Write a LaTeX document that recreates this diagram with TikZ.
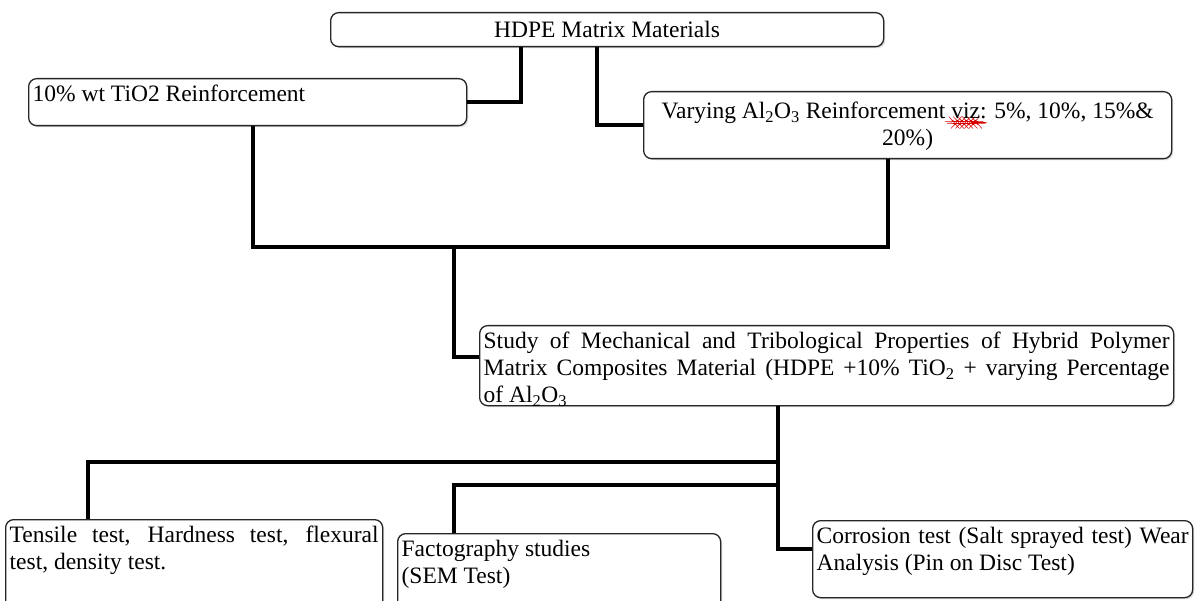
\documentclass[tikz,border=0pt]{standalone}
\usepackage{fontspec}
\setmainfont{Liberation Serif}
\usetikzlibrary{shadows,decorations.pathmorphing}
\newsavebox\wavebox
\newcommand\redwave[1]{\sbox\wavebox{#1}\rlap{\raisebox{-5pt}{\tikz\draw[red!85!black, line width=0.5pt, decorate, decoration={snake, amplitude=0.8pt, segment length=4.5pt}] (0pt,0pt) -- (\the\wd\wavebox,0pt);}}#1}
\newcommand\fs{\fontsize{23.5}{27}\selectfont}
\newcommand\tb[3]{\parbox[c][#2][t]{#1}{\strut #3}}
\begin{document}
\begin{tikzpicture}[x=1pt,y=-1pt,
  box/.style={draw=black!85, line width=1.3pt, rounded corners=8pt, fill=white,
    drop shadow={shadow xshift=1.5pt, shadow yshift=-1.5pt, opacity=0.3},
    inner xsep=4pt, inner ysep=4pt, anchor=north west, font=\fs},
  link/.style={line width=4pt, line join=miter, draw=black}]
\path[use as bounding box] (0,0) rectangle (1199,601);
\clip (0,0) rectangle (1199,601);

\node[box, minimum width=553pt, minimum height=34pt, inner ysep=0pt] (top) at (330,12) {HDPE Matrix Materials};
\node[box, minimum width=438pt, minimum height=47pt] (tio) at (28,78) {\tb{430pt}{39pt}{10\% wt TiO2 Reinforcement}};
\node[box, minimum width=528pt, minimum height=67pt, inner ysep=8pt] (al) at (643,91) {\tb{520pt}{51pt}{\centering Varying Al\textsubscript{2}O\textsubscript{3} Reinforcement \redwave{viz}: 5\%, 10\%, 15\%\&\\ 20\%)}};
\node[box, minimum width=694pt, minimum height=80pt] (study) at (479,325) {\tb{686pt}{72pt}{Study of Mechanical and Tribological Properties of Hybrid Polymer\linebreak Matrix Composites Material (HDPE +10\% TiO\textsubscript{2} + varying Percentage\linebreak of Al\textsubscript{2}O\textsubscript{3}}};
\node[box, minimum width=377pt, minimum height=100pt] (tens) at (5,519) {\tb{369pt}{92pt}{Tensile test, Hardness test, flexural\linebreak test, density test.}};
\node[box, minimum width=323pt, minimum height=90pt] (fact) at (397,533) {\tb{315pt}{82pt}{Factography studies\\(SEM Test)}};
\node[box, minimum width=380pt, minimum height=77pt] (corr) at (812,520) {\tb{372pt}{69pt}{Corrosion test (Salt sprayed test) Wear\linebreak Analysis (Pin on Disc Test)}};

\coordinate (a) at (521,0);
\coordinate (b) at (597,0);
\coordinate (j1) at (253,247);
\coordinate (j2) at (888,247);
\coordinate (j3) at (454,247);
\coordinate (j4) at (454,357);
\coordinate (k) at (778,549);
\coordinate (h1) at (88,462);
\coordinate (h2) at (778,462);
\coordinate (g1) at (454,485);
\coordinate (g2) at (778,485);

\draw[link] (top.south -| a) |- (tio.east);
\draw[link] (top.south -| b) |- (al.west);
\draw[link] (tio.south -| j1) -- (j1) -- (j2) -- (al.south -| j2);
\draw[link] (j3) -- (j4) -- (j4 -| study.west);
\draw[link] (study.south -| k) -- (k) -- (k -| corr.west);
\draw[link] (h2) -- (h1) -- (h1 |- tens.north);
\draw[link] (g2) -- (g1) -- (g1 |- fact.north);
\end{tikzpicture}
\end{document}
